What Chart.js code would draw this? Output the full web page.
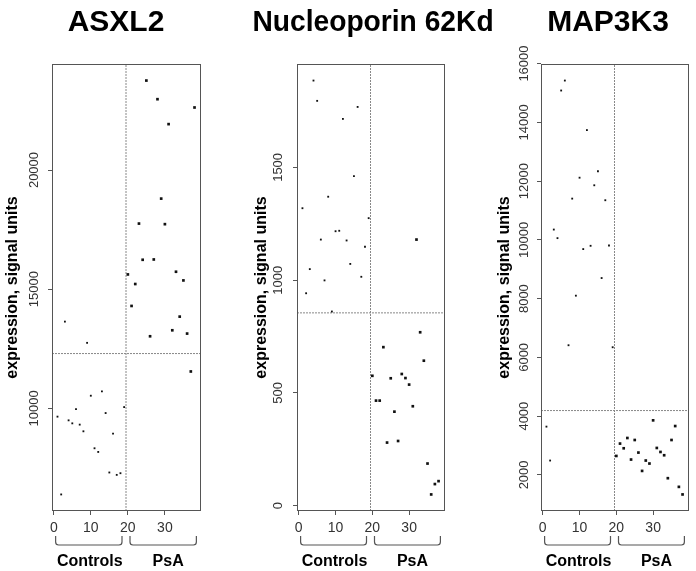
<!DOCTYPE html>
<html>
<head>
<meta charset="utf-8">
<title>Gene expression, controls vs PsA</title>
<script src="https://cdn.jsdelivr.net/npm/chart.js@4.4.1/dist/chart.umd.min.js"></script>
<style>
    html, body { margin: 0; padding: 0; background: #fff; overflow: hidden; }
    #wrap { position: relative; width: 696px; height: 571px; overflow: hidden; }
    #wrap canvas { position: absolute; left: 0; top: 0; }
</style>
</head>
<body>
<div id="wrap">
    <canvas id="asxl2" width="760" height="571"></canvas>
    <canvas id="nup62" width="760" height="571"></canvas>
    <canvas id="map3k3" width="760" height="571"></canvas>
</div>
<script>
// Sample numbers (x axis) and groups
const controlIds = [1, 2, 3, 4, 5, 6, 7, 8, 9, 10, 11, 12, 13, 14, 15, 16, 17, 18, 19];
const psaIds = [20, 21, 22, 23, 24, 25, 26, 27, 28, 29, 30, 31, 32, 33, 34, 35, 36, 37, 38];
const groupNames = ['Controls', 'PsA'];
const xTicks = [0, 10, 20, 30];
const groupSplit = 19.5;
const yAxisLabel = 'expression, signal units';

// ASXL2
const asxl2Controls = [9653, 6389, 13640, 9498, 9372, 9971, 9318, 9038, 12749, 10531, 8326, 8172, 10711, 9804, 7310, 8941, 7210, 7280, 10054];
const asxl2PsA = [15619, 14297, 15217, 17753, 16234, 23753, 13025, 16247, 22971, 18800, 17728, 21925, 13276, 15732, 13849, 15368, 13138, 11548, 22623];
const asxl2Cutoff = 12300;
const asxl2Ticks = [10000, 15000, 20000];

// Nucleoporin 62Kd
const nup62Controls = [1319, 942, 1049, 1885, 1795, 1180, 999, 1370, 861, 1217, 1219, 1715, 1176, 1072, 1461, 1768, 1015, 1148, 1275];
const nup62PsA = [576, 466, 466, 703, 280, 565, 417, 287, 584, 566, 537, 441, 1180, 769, 643, 187, 50, 96, 109];
const nup62Cutoff = 855;
const nup62Ticks = [0, 500, 1000, 1500];

// MAP3K3
const map3k3Controls = [3643, 2489, 10350, 10058, 15082, 15421, 6413, 11403, 8100, 12115, 9685, 13735, 9797, 11857, 12333, 8700, 11348, 9807, 6345];
const map3k3PsA = [2645, 3066, 2906, 3256, 2523, 3188, 2760, 2136, 2489, 2387, 3857, 2917, 2781, 2669, 1888, 3188, 3663, 1593, 1335];
const map3k3Cutoff = 4190;
const map3k3Ticks = [2000, 4000, 6000, 8000, 10000, 12000, 14000, 16000];

const FAMILY = '"Liberation Sans", Arial, Helvetica, sans-serif';
const titleFont = { family: FAMILY, size: 30, weight: 'bold' };
const axisTitleFont = { family: FAMILY, size: 16, weight: 'bold' };
const yTickFont = { family: FAMILY, size: 13 };
const xTickFont = { family: FAMILY, size: 14 };
const TICK_LEN = 4;
const PLOT_TOP = 64;
const PLOT_BOTTOM = 511;

// R style axis range: data extent plus 4% on each side
function rRange(values) {
    const lo = Math.min(...values);
    const hi = Math.max(...values);
    const pad = (hi - lo) * 0.04;
    return { min: lo - pad, max: hi + pad };
}

function textWidth(text, font) {
    const ctx = document.createElement('canvas').getContext('2d');
    ctx.font = (font.weight || 'normal') + ' ' + font.size + 'px ' + font.family;
    return ctx.measureText(text).width;
}

// Frame around the plotting region
const plotFrame = {
    id: 'plotFrame',
    afterDatasetsDraw(chart, args, opts) {
        const { ctx, chartArea: a } = chart;
        ctx.save();
        ctx.strokeStyle = opts.color;
        ctx.lineWidth = 1;
        ctx.strokeRect(Math.round(a.left) + 0.5, Math.round(a.top) + 0.5,
            Math.round(a.right - a.left), Math.round(a.bottom - a.top) - 1);
        ctx.restore();
    }
};

// Braces with group names under the x axis
const groupBrackets = {
    id: 'groupBrackets',
    afterDraw(chart, args, opts) {
        const { ctx } = chart;
        const xs = chart.scales.x;
        const n = opts.groups.length;
        ctx.save();
        ctx.strokeStyle = opts.color;
        ctx.lineWidth = 1.2;
        ctx.fillStyle = '#000';
        ctx.font = 'bold ' + opts.font.size + 'px ' + opts.font.family;
        ctx.textAlign = 'center';
        ctx.textBaseline = 'middle';
        opts.groups.forEach((g, i) => {
            let x0 = xs.getPixelForValue(g.first - 0.5);
            let x1 = xs.getPixelForValue(g.last + 0.5);
            if (i > 0) x0 += opts.gap;
            if (i < n - 1) x1 -= opts.gap;
            const yb = opts.y, yt = opts.y - opts.hook, r = opts.radius;
            ctx.beginPath();
            ctx.moveTo(x0, yt);
            ctx.lineTo(x0, yb - r);
            ctx.quadraticCurveTo(x0, yb, x0 + r, yb);
            ctx.lineTo(x1 - r, yb);
            ctx.quadraticCurveTo(x1, yb, x1, yb - r);
            ctx.lineTo(x1, yt);
            ctx.stroke();
            ctx.fillText(g.label, (x0 + x1) / 2 + (opts.nudge[i] || 0), opts.labelY);
        });
        ctx.restore();
    }
};

const groups = [
    { label: groupNames[0], first: controlIds[0], last: controlIds[controlIds.length - 1] },
    { label: groupNames[1], first: psaIds[0], last: psaIds[psaIds.length - 1] }
];

function createPanel(p) {
    const canvas = document.getElementById(p.id);
    const W = canvas.width, H = canvas.height;
    const xr = rRange(controlIds.concat(psaIds));
    const yr = rRange(p.controls.concat(p.psa));

    // place the plot box, the title and the y axis texts
    const padLeft = p.yTitleX - axisTitleFont.size * 1.2 / 2;
    const yWidth = p.left - padLeft;
    const titleRight = 2 * p.titleX - padLeft;
    const padRight = W - titleRight;
    const spacerWidth = titleRight - p.right;
    const widest = Math.max(...p.yTicks.map(v => textWidth(String(v), yTickFont)));
    const yTickPad = (p.left - p.yLabelX) - TICK_LEN - widest / 2;

    const tickGrid = { display: true, drawOnChartArea: false, drawTicks: true, tickLength: TICK_LEN, color: '#555', lineWidth: 1 };

    return new Chart(canvas, {
        type: 'scatter',
        data: {
            datasets: [
                {
                    label: groupNames[0],
                    data: controlIds.map((x, i) => ({ x: x, y: p.controls[i] })),
                    pointStyle: 'rect',
                    pointRadius: 1.3,
                    backgroundColor: '#111',
                    borderWidth: 0
                },
                {
                    label: groupNames[1],
                    data: psaIds.map((x, i) => ({ x: x, y: p.psa[i] })),
                    pointStyle: 'rect',
                    pointRadius: 1.9,
                    backgroundColor: '#111',
                    borderWidth: 0
                },
                {
                    label: 'split',
                    data: [{ x: groupSplit, y: yr.min }, { x: groupSplit, y: yr.max }],
                    showLine: true,
                    borderColor: '#888',
                    borderWidth: 1,
                    borderDash: [2, 1],
                    pointRadius: 0
                },
                {
                    label: 'cutoff',
                    data: [{ x: xr.min, y: p.cutoff }, { x: xr.max, y: p.cutoff }],
                    showLine: true,
                    borderColor: '#888',
                    borderWidth: 1,
                    borderDash: [2, 1],
                    pointRadius: 0
                }
            ]
        },
        options: {
            responsive: false,
            animation: false,
            events: [],
            layout: { padding: { left: padLeft, right: padRight, top: 0, bottom: 0 } },
            plugins: {
                legend: { display: false },
                tooltip: { enabled: false },
                title: {
                    display: true,
                    text: p.title,
                    font: titleFont,
                    color: '#000',
                    padding: { top: 5, bottom: PLOT_TOP - 5 - titleFont.size * 1.2 }
                },
                plotFrame: { color: '#555' },
                groupBrackets: {
                    groups: groups,
                    y: 545,
                    hook: 9,
                    radius: 3,
                    gap: 4,
                    labelY: 562,
                    nudge: [1, 5],
                    color: '#555',
                    font: axisTitleFont
                }
            },
            scales: {
                x: {
                    type: 'linear',
                    min: xr.min,
                    max: xr.max,
                    afterBuildTicks: s => { s.ticks = xTicks.map(v => ({ value: v })); },
                    afterFit: s => { s.height = H - PLOT_BOTTOM; },
                    grid: tickGrid,
                    border: { display: false },
                    ticks: {
                        autoSkip: false,
                        maxRotation: 0,
                        padding: 5,
                        font: xTickFont,
                        color: '#333',
                        callback: v => String(v)
                    }
                },
                y: {
                    type: 'linear',
                    position: 'left',
                    min: yr.min,
                    max: yr.max,
                    afterBuildTicks: s => { s.ticks = p.yTicks.map(v => ({ value: v })); },
                    afterFit: s => { s.width = yWidth; },
                    grid: tickGrid,
                    border: { display: false },
                    ticks: {
                        autoSkip: false,
                        minRotation: 90,
                        maxRotation: 90,
                        crossAlign: 'center',
                        padding: yTickPad,
                        font: yTickFont,
                        color: '#333',
                        callback: v => String(v)
                    },
                    title: {
                        display: true,
                        text: yAxisLabel,
                        font: axisTitleFont,
                        color: '#000',
                        padding: 0
                    }
                },
                spacer: {
                    axis: 'y',
                    type: 'linear',
                    position: 'right',
                    display: true,
                    afterFit: s => { s.width = spacerWidth; },
                    grid: { display: false },
                    border: { display: false },
                    ticks: { display: false }
                }
            }
        },
        plugins: [plotFrame, groupBrackets]
    });
}

window.asxl2Chart = createPanel({
    id: 'asxl2', title: 'ASXL2',
    controls: asxl2Controls, psa: asxl2PsA, cutoff: asxl2Cutoff, yTicks: asxl2Ticks,
    left: 52, right: 200, titleX: 116, yTitleX: 13, yLabelX: 34
});
window.nup62Chart = createPanel({
    id: 'nup62', title: 'Nucleoporin 62Kd',
    controls: nup62Controls, psa: nup62PsA, cutoff: nup62Cutoff, yTicks: nup62Ticks,
    left: 297, right: 444, titleX: 373, yTitleX: 262, yLabelX: 278
});
window.map3k3Chart = createPanel({
    id: 'map3k3', title: 'MAP3K3',
    controls: map3k3Controls, psa: map3k3PsA, cutoff: map3k3Cutoff, yTicks: map3k3Ticks,
    left: 541, right: 688, titleX: 608, yTitleX: 505, yLabelX: 524
});
</script>
</body>
</html>
